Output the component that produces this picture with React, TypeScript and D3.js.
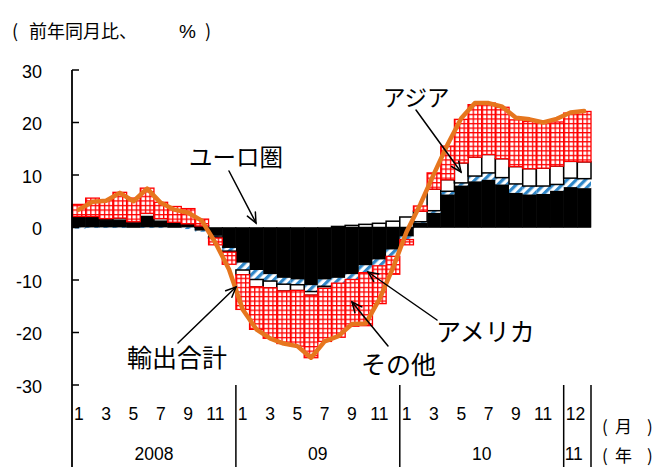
import React from "react";
import * as d3 from "d3";

// Monthly series, Jan 2008 – Feb 2011 (contributions, % points, y/y)
const euroArea = [
  2.1, 2.1, 1.4, 1.4, 0.8, 2.1, 1.2, 0.8, 0.7, -0.6, -1.6, -3.9,
  -6.7, -8.1, -8.9, -9.6, -9.9, -11.0, -9.9, -9.6, -8.9, -7.2, -6.1, -4.2,
  -1.7, 0.9, 2.8, 6.3, 8.0, 8.8, 9.1, 8.2, 6.6, 6.3, 6.4, 7.0,
  7.7, 7.5,
];
const america = [
  -0.2, -0.1, -0.1, -0.1, 0, -0.1, -0.1, 0, -0.3, -0.2, -0.2, -0.6,
  -1.4, -1.8, -1.3, -1.2, -1.0, -1.2, -1.3, -1.0, -1.0, -1.4, -1.2, -1.3,
  -0.6, 0.2, 0.4, 0.6, 0.5, 1.0, 1.3, 1.3, 1.7, 1.6, 1.5, 1.2,
  1.7, 1.8,
];
const asia = [
  0, 0, 0.3, 0.4, 0.3, 0.6, 0.5, 0.2, 0, 0.3, -0.2, -0.2,
  -0.9, -1.4, -1.3, -1.3, -1.1, -0.7, -0.4, 0.2, 0.4, 0.6, 0.8, 1.2,
  2.0, 2.0, 4.1, 2.2, 3.8, 3.6, 3.5, 3.6, 3.3, 3.3, 3.4, 3.5,
  3.2, 3.2,
];
const others = [
  2.3, 3.5, 3.6, 4.9, 4.5, 4.8, 3.1, 3.0, 2.9, 1.3, -1.3, -2.3,
  -6.6, -8.1, -9.6, -10.0, -10.6, -11.9, -10.1, -10.3, -8.9, -10.1, -7.2, -3.4,
  -1.0, 1.0, 3.1, 6.4, 8.3, 10.0, 9.8, 9.8, 8.9, 9.0, 8.6, 8.4,
  9.2, 9.6,
];
const totalExports = [
  3.4, 4.9, 5.1, 6.6, 5.0, 7.4, 4.7, 3.4, 2.8, 1.3, -2.9, -8.0,
  -15.6, -19.4, -21.1, -22.1, -22.6, -24.8, -21.7, -20.7, -18.4, -18.3, -13.7, -7.7,
  -0.8, 4.4, 10.2, 15.8, 20.8, 23.7, 23.7, 23.0, 20.9, 20.6, 20.0, 20.7,
  21.9, 22.2,
];

// Axis labels
const yTicks = [30, 20, 10, 0, -10, -20, -30];
const monthTickLabels = ["1", "3", "5", "7", "9", "11"];
const yearLabels = ["2008", "09", "10", "11"];
const yearMonthCounts = [12, 12, 12, 2];
const lastSegmentMonthLabel = "12";

const JP = "'Noto Sans CJK JP', 'Noto Sans', sans-serif";
const NUM = "'Liberation Sans', Arial, sans-serif";

const W = 664;
const H = 467;
const X0 = 72;
const X1 = 591;
const YTOP = 70;
const YBOT = 385;

type Row = { i: number; euro: number; usa: number; asia: number; other: number };

function Arrow({ x1, y1, x2, y2 }: { x1: number; y1: number; x2: number; y2: number }) {
  const ang = Math.atan2(y2 - y1, x2 - x1);
  const len = 11;
  const spread = 0.42;
  const ax = x2 - len * Math.cos(ang - spread);
  const ay = y2 - len * Math.sin(ang - spread);
  const bx = x2 - len * Math.cos(ang + spread);
  const by = y2 - len * Math.sin(ang + spread);
  return (
    <g stroke="#000" strokeWidth={1.5} fill="none" strokeLinecap="round">
      <line x1={x1} y1={y1} x2={x2} y2={y2} />
      <polyline points={`${ax},${ay} ${x2},${y2} ${bx},${by}`} />
    </g>
  );
}

export default function App() {
  const n = totalExports.length;
  const idx = d3.range(n);
  const x = d3.scaleBand<number>().domain(idx).range([X0, X1]).padding(0);
  const y = d3.scaleLinear().domain([-30, 30]).range([YBOT, YTOP]);
  const step = x.step();

  const rows: Row[] = idx.map((i) => ({
    i,
    euro: euroArea[i],
    usa: america[i],
    asia: asia[i],
    other: others[i],
  }));
  const keys = ["euro", "usa", "asia", "other"] as const;
  const stacked = d3
    .stack<Row>()
    .keys(keys as unknown as string[])
    .offset(d3.stackOffsetDiverging)(rows);

  const styles: Record<string, { fill: string; stroke: string; sw: number }> = {
    euro: { fill: "#000", stroke: "#000", sw: 0.6 },
    usa: { fill: "url(#hatchBlue)", stroke: "none", sw: 0 },
    asia: { fill: "#fff", stroke: "#000", sw: 1.5 },
    other: { fill: "url(#gridRed)", stroke: "#ff0000", sw: 1.3 },
  };

  const line = d3
    .line<number>()
    .x((_, i) => (x(i) as number) + step / 2)
    .y((d) => y(d))
    .curve(d3.curveLinear);

  // Year separators and month labels
  const seps: number[] = [X0];
  let acc = 0;
  yearMonthCounts.forEach((c) => {
    acc += c;
    seps.push(acc < n ? (x(acc) as number) : X1);
  });

  const monthTexts: { x: number; t: string }[] = [];
  let start = 0;
  yearMonthCounts.forEach((c) => {
    if (c === 12) {
      monthTickLabels.forEach((t) => {
        const m = +t - 1;
        monthTexts.push({ x: (x(start + m) as number) + step / 2, t });
      });
    }
    start += c;
  });

  return (
    <svg
      width={W}
      height={H}
      style={{ position: "absolute", left: 0, top: 0, background: "#fff" }}
    >
      <defs>
        <pattern
          id="hatchBlue"
          patternUnits="userSpaceOnUse"
          width={6.5}
          height={6.5}
          patternTransform="rotate(45)"
        >
          <rect width={6.5} height={6.5} fill="#fff" />
          <rect width={3.2} height={6.5} fill="#2f87c9" />
        </pattern>
        <pattern
          id="gridRed"
          patternUnits="userSpaceOnUse"
          x={X0}
          y={0}
          width={step / 3}
          height={step / 3}
        >
          <rect width={step / 3} height={step / 3} fill="#fff" />
          <rect width={step / 3} height={1.3} fill="#ff0000" />
          <rect width={1.3} height={step / 3} fill="#ff0000" />
        </pattern>
      </defs>

      {/* title */}
      <g fontFamily={JP} fontSize={18} fill="#000">
        <text x={12} y={38}>(</text>
        <text x={29} y={38}>前年同月比、</text>
        <text x={179} y={38} fontFamily={NUM} fontSize={19}>%</text>
        <text x={205} y={38}>)</text>
      </g>

      {/* stacked bars */}
      {stacked.map((s) => {
        const st = styles[s.key];
        return (
          <g key={s.key}>
            {s.map((d, i) => {
              const v = d[1] - d[0];
              if (Math.abs(v) < 1e-9) return null;
              const y0 = y(Math.max(d[0], d[1]));
              const y1 = y(Math.min(d[0], d[1]));
              return (
                <rect
                  key={i}
                  x={x(i) as number}
                  y={y0}
                  width={step}
                  height={y1 - y0}
                  fill={st.fill}
                  stroke={st.stroke}
                  strokeWidth={st.sw}
                />
              );
            })}
          </g>
        );
      })}

      {/* total line */}
      <path
        d={line(totalExports) ?? ""}
        fill="none"
        stroke="#e6761e"
        strokeWidth={4.5}
        strokeLinejoin="round"
        strokeLinecap="round"
      />

      {/* y axis */}
      <line x1={X0} y1={YTOP} x2={X0} y2={H} stroke="#000" strokeWidth={1.8} />
      {yTicks.map((t) => (
        <g key={t}>
          <line x1={X0} x2={X0 + 7} y1={y(t)} y2={y(t)} stroke="#000" strokeWidth={1.5} />
          <text
            x={42}
            y={y(t) + 3}
            textAnchor="end"
            dominantBaseline="middle"
            fontFamily={NUM}
            fontSize={18}
          >
            {t}
          </text>
        </g>
      ))}

      {/* x axis: separators, months, years */}
      {seps.slice(1).map((sx, k) => (
        <line key={k} x1={sx} x2={sx} y1={YBOT} y2={H} stroke="#000" strokeWidth={1.5} />
      ))}
      <g fontFamily={NUM} fontSize={17.5} textAnchor="middle">
        {monthTexts.map((m, k) => (
          <text key={k} x={m.x} y={420}>
            {m.t}
          </text>
        ))}
        <text x={seps[3] + 2} y={420} textAnchor="start">
          {lastSegmentMonthLabel}
        </text>
        {yearLabels.map((t, k) =>
          k < 3 ? (
            <text key={t} x={(seps[k] + seps[k + 1]) / 2} y={460}>
              {t}
            </text>
          ) : (
            <text key={t} x={seps[3] + 1} y={460} textAnchor="start">
              {t}
            </text>
          )
        )}
      </g>
      <g fontFamily={JP} fontSize={17}>
        <text x={602} y={433}>(</text>
        <text x={615} y={433}>月</text>
        <text x={647} y={433}>)</text>
        <text x={602} y={462}>(</text>
        <text x={615} y={462}>年</text>
        <text x={647} y={462}>)</text>
      </g>

      {/* series annotations */}
      <g fontFamily={JP} fontSize={23.5} fill="#000">
        <text x={383} y={106} fontSize={22.5}>アジア</text>
        <text x={189} y={166}>ユーロ圏</text>
        <text x={436} y={341} fontSize={25}>アメリカ</text>
        <text x={361} y={374} fontSize={25}>その他</text>
        <text x={127} y={367} fontSize={25}>輸出合計</text>
      </g>
      <Arrow x1={416} y1={110} x2={461} y2={172} />
      <Arrow x1={229} y1={171} x2={256} y2={223} />
      <Arrow x1={437} y1={320} x2={368} y2={272} />
      <Arrow x1={388} y1={346} x2={352} y2={302} />
      <Arrow x1={178} y1={343} x2={236} y2={287} />
    </svg>
  );
}
